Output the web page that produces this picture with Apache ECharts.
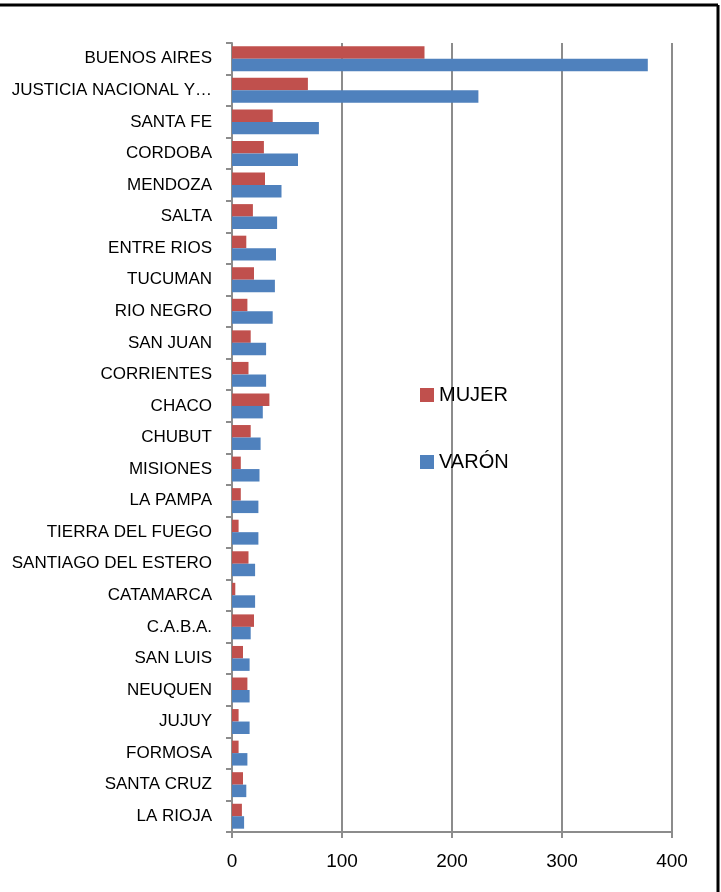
<!DOCTYPE html>
<html>
<head>
<meta charset="utf-8">
<script src="https://cdn.jsdelivr.net/npm/echarts@6/dist/echarts.min.js"></script>
<style>
  html, body { margin: 0; padding: 0; background: #fff; }
  #chart { width: 721px; height: 892px; }
</style>
</head>
<body>
<div id="chart"></div>
<script>
// provincias / jurisdicciones, de arriba hacia abajo
var provincias = [
  'BUENOS AIRES', 'JUSTICIA NACIONAL Y…', 'SANTA FE', 'CORDOBA', 'MENDOZA',
  'SALTA', 'ENTRE RIOS', 'TUCUMAN', 'RIO NEGRO', 'SAN JUAN',
  'CORRIENTES', 'CHACO', 'CHUBUT', 'MISIONES', 'LA PAMPA',
  'TIERRA DEL FUEGO', 'SANTIAGO DEL ESTERO', 'CATAMARCA', 'C.A.B.A.', 'SAN LUIS',
  'NEUQUEN', 'JUJUY', 'FORMOSA', 'SANTA CRUZ', 'LA RIOJA'
]
var mujer = [175, 69, 37, 29, 30, 19, 13, 20, 14, 17, 15, 34, 17, 8, 8, 6, 15, 3, 20, 10, 14, 6, 6, 10, 9]
var varon = [378, 224, 79, 60, 45, 41, 40, 39, 37, 31, 31, 28, 26, 25, 24, 24, 21, 21, 17, 16, 16, 16, 14, 13, 11]
var xTicks = [0, 100, 200, 300, 400]

var fuente = 'Liberation Sans'
var gris = '#8c8c8c'

var chart = echarts.init(document.getElementById('chart'))
var option = {
  animation: false,
  textStyle: { fontFamily: fuente },
  color: ['#C0504D', '#4F81BD'],
  grid: { left: 232, right: 49, top: 43, bottom: 60, containLabel: false },
  legend: {
    orient: 'vertical',
    left: 420,
    top: 385,
    padding: 0,
    itemWidth: 14,
    itemHeight: 14,
    itemGap: 47,
    icon: 'rect',
    textStyle: { fontSize: 20, color: '#000' },
    data: ['MUJER', 'VARÓN']
  },
  xAxis: {
    type: 'value',
    min: xTicks[0],
    max: xTicks[xTicks.length - 1],
    interval: 100,
    axisLine: { show: true, lineStyle: { color: gris, width: 2 } },
    axisTick: { show: true, length: 6, lineStyle: { color: gris, width: 2 } },
    axisLabel: { fontSize: 19, color: '#000', margin: 20 },
    splitLine: { show: true, lineStyle: { color: gris, width: 2 } }
  },
  yAxis: {
    type: 'category',
    inverse: true,
    data: provincias,
    axisLine: { show: true, lineStyle: { color: gris, width: 2 } },
    axisTick: { show: true, length: 6, lineStyle: { color: gris, width: 2 } },
    axisLabel: { fontSize: 17, color: '#000', margin: 20 }
  },
  series: [
    {
      name: 'MUJER',
      type: 'bar',
      data: mujer,
      barGap: '0%',
      barCategoryGap: '21%'
    },
    {
      name: 'VARÓN',
      type: 'bar',
      data: varon,
      barGap: '0%',
      barCategoryGap: '21%'
    }
  ],
  graphic: [
    { type: 'line', shape: { x1: 0, y1: 5, x2: 718, y2: 5 }, style: { stroke: '#000', lineWidth: 3 } },
    { type: 'line', shape: { x1: 718, y1: 5, x2: 718, y2: 892 }, style: { stroke: '#000', lineWidth: 3 } }
  ]
}
chart.setOption(option)
</script>
</body>
</html>
